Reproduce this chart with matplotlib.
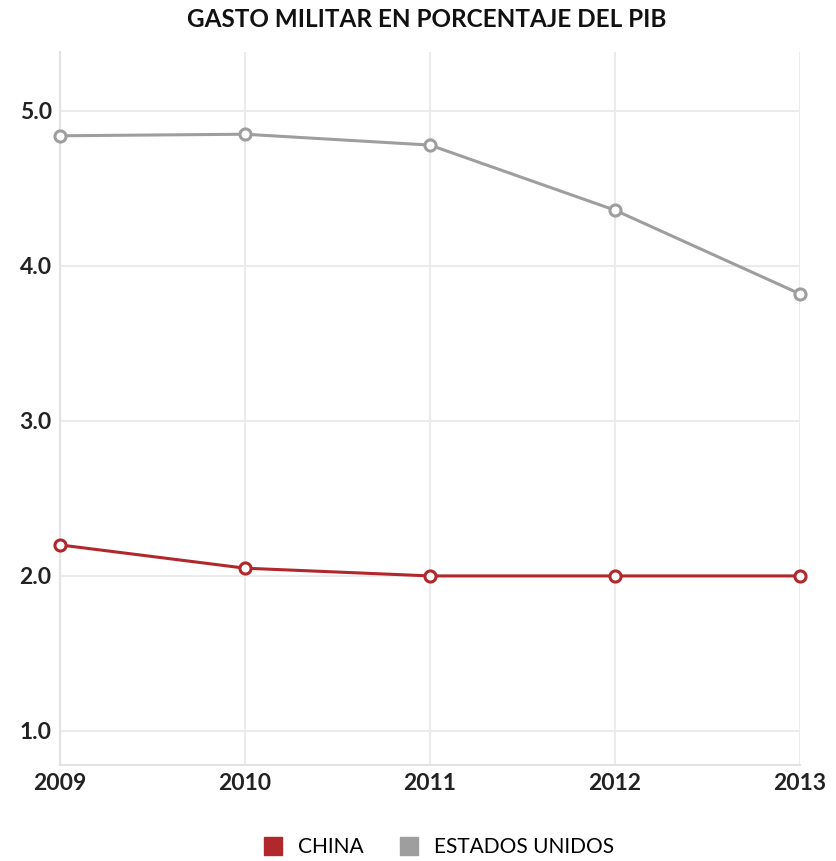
import matplotlib.pyplot as plt
from matplotlib.lines import Line2D

anios = [2009, 2010, 2011, 2012, 2013]
china = [2.2, 2.05, 2.0, 2.0, 2.0]
eeuu = [4.84, 4.85, 4.78, 4.36, 3.82]
y_ticks = [1.0, 2.0, 3.0, 4.0, 5.0]

rojo = '#b0282c'
gris = '#9e9e9e'

plt.rcParams['font.family'] = ['Lato', 'DejaVu Sans']

fig = plt.figure(figsize=(8.36, 8.61), dpi=100)
ax = fig.add_axes([0.0718, 0.1115, 0.885, 0.828])

ax.plot(anios, china, color=rojo, lw=2.2, marker='o', ms=8, mfc='white', mec=rojo, mew=2.2,
        zorder=3, clip_on=False)
ax.plot(anios, eeuu, color=gris, lw=2.2, marker='o', ms=8, mfc='white', mec=gris, mew=2.2,
        zorder=3, clip_on=False)

ax.set_xlim(2009, 2013)
ax.set_ylim(0.78, 5.38)
ax.set_xticks(anios)
ax.set_yticks(y_ticks)
ax.set_yticklabels(['%.1f' % v for v in y_ticks])
ax.grid(True, color='#ebebeb', lw=1.5)
ax.set_axisbelow(True)
for s in ['top', 'right']:
    ax.spines[s].set_visible(False)
for s in ['left', 'bottom']:
    ax.spines[s].set_color('#e3e3e3')
    ax.spines[s].set_linewidth(1.5)
ax.tick_params(length=0, labelsize=16.5, pad=6)
for t in ax.get_xticklabels() + ax.get_yticklabels():
    t.set_fontweight('bold')
    t.set_color('#222222')

fig.text(0.51, 0.977, 'GASTO MILITAR EN PORCENTAJE DEL PIB', ha='center', va='center',
         fontsize=17.5, fontweight='bold', color='#111111')

handles = [Line2D([], [], ls='none', marker='s', ms=13, color=rojo),
           Line2D([], [], ls='none', marker='s', ms=13, color=gris)]
fig.legend(handles, ['CHINA', 'ESTADOS UNIDOS'], loc='center', bbox_to_anchor=(0.518, 0.016),
           ncol=2, frameon=False, fontsize=15, handletextpad=0.2, columnspacing=1.2)

fig.savefig('out.png', dpi=100)
